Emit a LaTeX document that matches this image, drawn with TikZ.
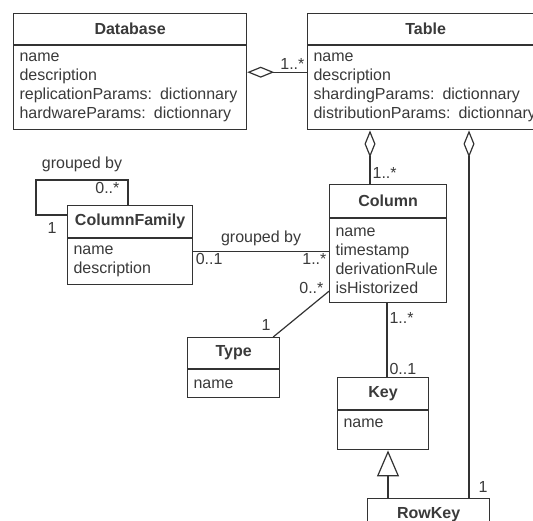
\documentclass[tikz,border=0pt]{standalone}
\usepackage{fontspec}
\setmainfont{Liberation Sans}
\usepackage{xcolor}
\usepackage{tikz}
\usetikzlibrary{arrows.meta, positioning}
\definecolor{linegray}{HTML}{333333}
\definecolor{textgray}{HTML}{3A3A3A}
\newcommand{\umlfont}{\fontsize{16}{19}\selectfont\hyphenpenalty=10000\exhyphenpenalty=10000}
\tikzset{
    classhead/.style={rectangle, draw=linegray, fill=white, text=textgray, font=\umlfont\bfseries, minimum height=32pt, inner sep=0pt, anchor=north west, line width=1.2pt},
    classbody/.style={rectangle, draw=linegray, fill=white, text=textgray, font=\umlfont, align=left, inner xsep=6pt, inner ysep=0pt, anchor=north west, line width=1.2pt},
    assoc/.style={draw=linegray, line width=1.2pt},
    aggr/.style={assoc, {Diamond[open, length=27pt, width=11pt]}-},
    inherit/.style={assoc, -{Triangle[open, length=26pt, width=22pt]}},
    mult/.style={text=textgray, font=\umlfont, inner sep=2pt}
}

\begin{document}
\begin{tikzpicture}[x=1pt, y=-1pt]
    \useasboundingbox (0,0) rectangle (533,521);
    \clip (0,0) rectangle (533,521);
    % classes
    \node (db) [classhead, minimum width=233pt, minimum height=31pt] at (13,13) {Database};
    \node (dbattr) [classbody, text width=221pt, minimum height=84pt] at (db.south west) {name\\description\\replicationParams: dictionnary\\hardwareParams: dictionnary};
    \node (tab) [classhead, minimum width=236pt, minimum height=31pt] at (307,13) {Table};
    \node (tabattr) [classbody, text width=224pt, minimum height=84pt] at (tab.south west) {name\\description\\shardingParams: dictionnary\\distributionParams: dictionnary};
    \node (colhead) [classhead, minimum width=117pt, minimum height=33pt] at (329,184) {Column};
    \node (colattr) [classbody, text width=105pt, minimum height=84pt] at (colhead.south west) {name\\timestamp\\derivationRule\\isHistorized};
    \node (cfhead) [classhead, minimum width=125pt] at (67,205) {ColumnFamily};
    \node (cfattr) [classbody, text width=113pt, minimum height=46pt] at (cfhead.south west) {name\\description};
    \node (typehead) [classhead, minimum width=92pt, minimum height=31pt] at (187,337) {Type};
    \node (typeattr) [classbody, text width=80pt, minimum height=28pt] at (typehead.south west) {name};
    \node (keyhead) [classhead, minimum width=91pt] at (337,377) {Key};
    \node (keyattr) [classbody, text width=79pt, minimum height=39pt, text depth=15pt] at (keyhead.south west) {name};
    \node (rkhead) [classhead, minimum width=122pt] at (367,498) {RowKey};

    % associations
    \draw [aggr] ([yshift=-27pt]dbattr.north east) -- ([yshift=-27pt]tabattr.north west) node [mult, above left] {1..*};
    \draw [aggr] ([xshift=63pt]tabattr.south west) -- ([xshift=41pt]colhead.north west) node [mult, above right, yshift=3pt] {1..*};
    \draw [aggr] ([xshift=162pt]tabattr.south west) -- ([xshift=102pt]rkhead.north west) node [mult, above right, xshift=7pt, yshift=3pt] {1};
    \draw [assoc] ([yshift=-13pt]cfattr.north east) node [mult, below right] {0..1}
        -- node [mult, above, yshift=3pt] {grouped by} ([yshift=-33pt]colattr.north west) node [mult, below left] {1..*};
    \draw [assoc] ([xshift=61pt]cfhead.north west) -- ++(0,-25) node [mult, below left, xshift=-6pt] {0..*}
        -- node [mult, above, yshift=6pt] {grouped by} ++(-92,0) -- ++(0,35) node [mult, below right, xshift=9pt, yshift=-5pt] {1}
        -- ([yshift=-10pt]cfhead.north west);
    \draw [assoc] ([xshift=-7pt]typehead.north east) node [mult, above left, yshift=4pt] {1}
        -- ([yshift=-73pt]colattr.north west) node [mult, left, xshift=-3pt, yshift=3pt] {0..*};
    \draw [assoc] ([xshift=58pt]colattr.south west) node [mult, below right, yshift=-6pt] {1..*}
        -- ([xshift=50pt]keyhead.north west) node [mult, above right] {0..1};
    \draw [inherit] ([xshift=21pt]rkhead.north west) -- ([xshift=51pt]keyattr.south west);
\end{tikzpicture}
\end{document}
